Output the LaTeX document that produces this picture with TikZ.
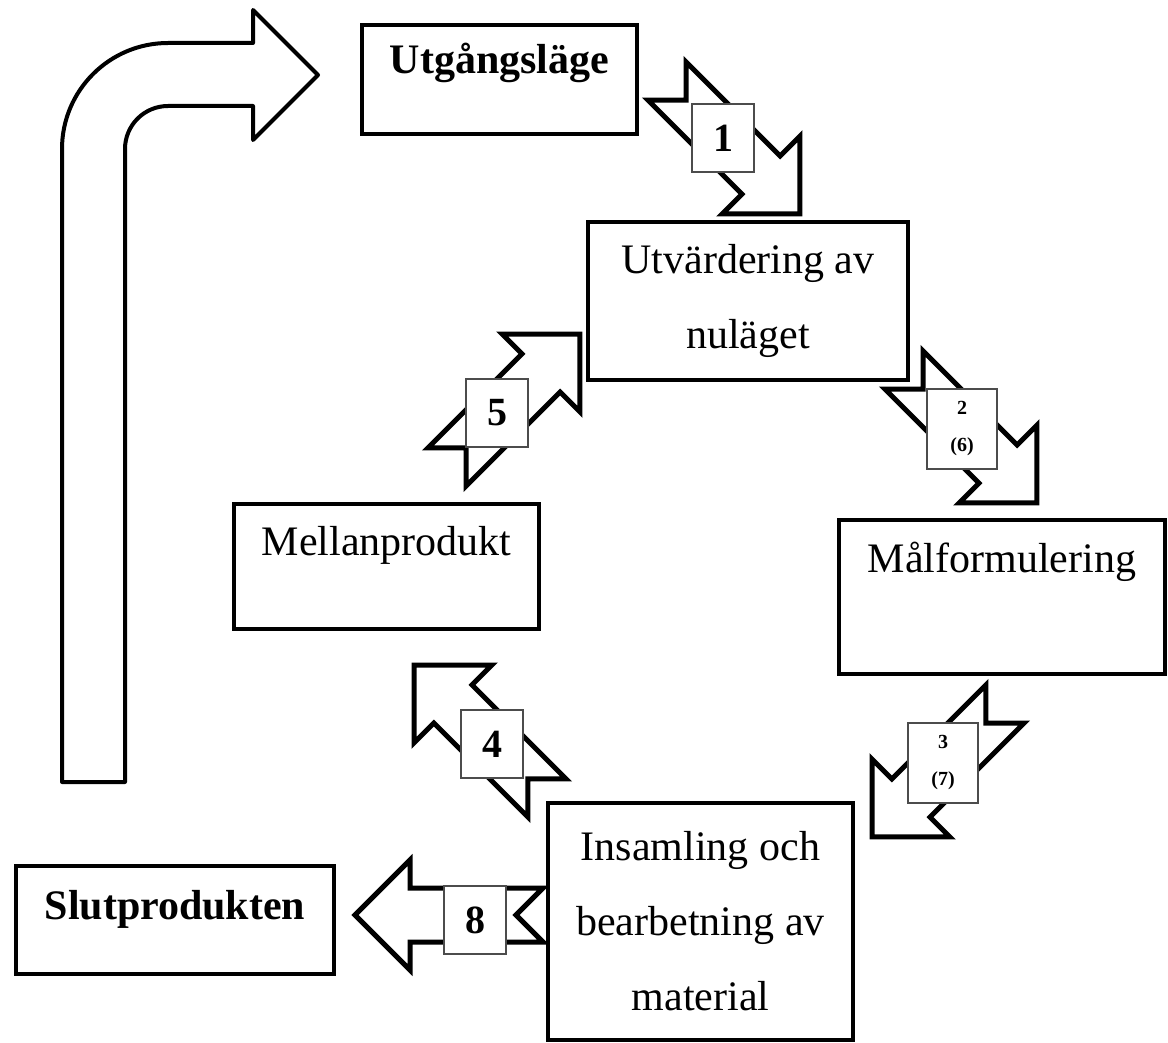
\documentclass[tikz,border=0pt]{standalone}
\usepackage{fontspec}
\setmainfont{Liberation Serif}
\begin{document}
\begin{tikzpicture}[x=1pt, y=-1pt,
    stage/.style={draw, line width=4pt, inner sep=0pt, align=center,
      font=\fontsize{42}{75}\selectfont},
    title/.style={stage, font=\bfseries\fontsize{42}{75}\selectfont},
    numbox/.style={draw=black!70, line width=1.2pt, fill=white, inner sep=0pt,
      minimum width=62pt, minimum height=68pt, font=\bfseries\fontsize{40}{40}\selectfont},
    smallnum/.style={numbox, minimum width=70pt, minimum height=80pt, align=center,
      font=\bfseries\fontsize{20}{37}\selectfont},
    blockarrow/.pic={
      \draw[line width=5pt, fill=white] (0,27) -- (133,27) -- (133,55) -- (188,0)
        -- (133,-55) -- (133,-27) -- (0,-27) -- (27,0) -- cycle;
    }]
  \useasboundingbox (0,0) rectangle (1168,1043);
  \node[title, anchor=north west, minimum width=275pt, text height=49pt, text depth=60pt] (s0) at (360,23) {Utgångsläge};
  \node[stage, minimum width=320pt, minimum height=158pt] (s1) at (748,301) {Utvärdering av\\nuläget};
  \node[stage, anchor=north west, minimum width=326pt, text height=52pt, text depth=102pt] (s2) at (837,518) {Målformulering};
  \node[stage, minimum width=305pt, minimum height=237pt] (s3) at (700.5,921.5) {Insamling och\\bearbetning av\\material};
  \node[stage, anchor=north west, minimum width=305pt, text height=51pt, text depth=74pt] (s4) at (232,502) {Mellanprodukt};
  \node[title, anchor=north west, minimum width=318pt, text height=53pt, text depth=55pt] (s5) at (14,864) {Slutprodukten};
  \draw[line width=4pt, line join=round, fill=white] (62,782) -- (62,149)
    arc[start angle=180, end angle=270, radius=106] -- (253,43) -- (253,10) -- (318,75)
    -- (253,140) -- (253,106) -- (168,106) arc[start angle=270, end angle=180, radius=43]
    -- (125,782) -- cycle;
  \pic[rotate=-45] at (667,81) {blockarrow};
  \pic[rotate=-45] at (904,370) {blockarrow};
  \pic[rotate=-135] at (1005,704) {blockarrow};
  \pic[rotate=135] at (547,798) {blockarrow};
  \pic[rotate=45] at (447,467) {blockarrow};
  \pic[rotate=180] at (543,915) {blockarrow};
  \node[numbox] (n1) at (723,138) {1};
  \node[smallnum] (n2) at (962,429) {2\\(6)};
  \node[smallnum] (n3) at (943,763) {3\\(7)};
  \node[numbox] (n4) at (492,744) {4};
  \node[numbox] (n5) at (497,413) {5};
  \node[numbox] (n8) at (475,920) {8};
\end{tikzpicture}
\end{document}
